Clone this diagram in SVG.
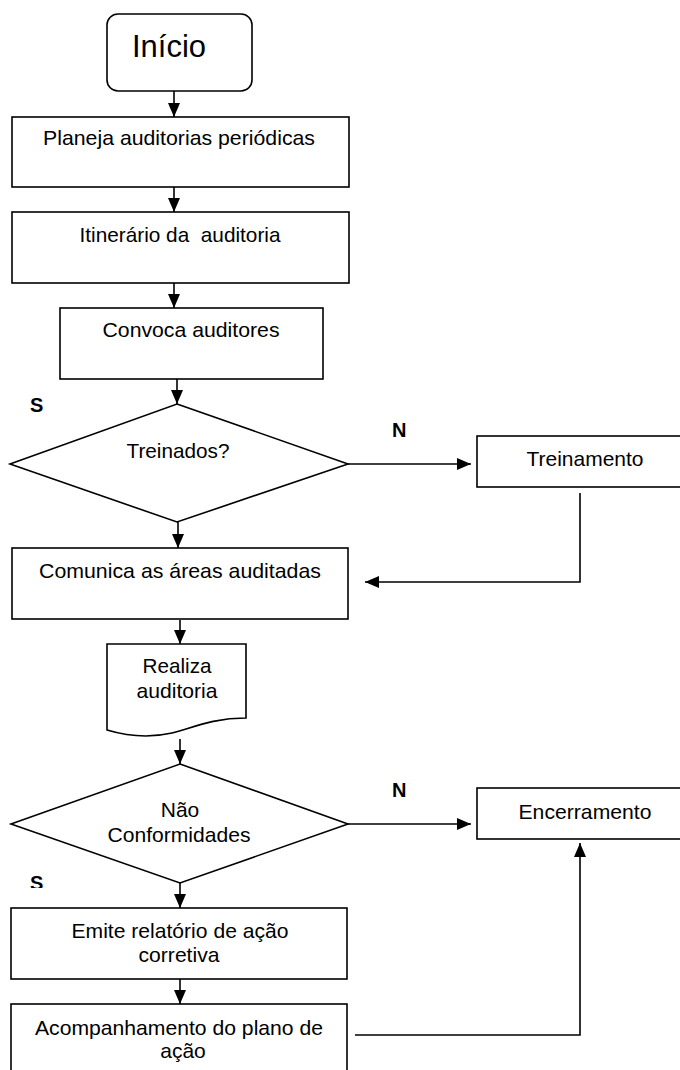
<svg xmlns="http://www.w3.org/2000/svg" width="680" height="1070" viewBox="0 0 680 1070">
<style>
.box{fill:#fff;stroke:#000;stroke-width:1.6}
.t{font-family:"Liberation Sans",Arial,sans-serif;font-size:21px;fill:#000;text-anchor:middle}
.lbl{font-family:"Liberation Sans",Arial,sans-serif;font-size:20px;font-weight:bold;fill:#000}
.ln{fill:none;stroke:#000;stroke-width:1.6}
</style>
<defs>
<marker id="ah" viewBox="0 0 14 12" refX="14" refY="6" markerWidth="14" markerHeight="12" markerUnits="userSpaceOnUse" orient="auto">
<path d="M0,0 L14,6 L0,12 z" fill="#000"/>
</marker>
<clipPath id="sclip"><rect x="0" y="860" width="100" height="28"/></clipPath>
</defs>
<rect width="680" height="1070" fill="#fff"/>

<g id="connectors">
<line class="ln" x1="174" y1="91" x2="174" y2="117" marker-end="url(#ah)"/>
<line class="ln" x1="174" y1="187" x2="174" y2="212" marker-end="url(#ah)"/>
<line class="ln" x1="174" y1="283" x2="174" y2="308" marker-end="url(#ah)"/>
<line class="ln" x1="177" y1="379" x2="177" y2="404" marker-end="url(#ah)"/>
<line class="ln" x1="348" y1="464" x2="471" y2="464" marker-end="url(#ah)"/>
<line class="ln" x1="178" y1="522" x2="178" y2="548" marker-end="url(#ah)"/>
<polyline class="ln" points="580,493 580,582 365,582" marker-end="url(#ah)"/>
<line class="ln" x1="180" y1="620" x2="180" y2="644" marker-end="url(#ah)"/>
<line class="ln" x1="180" y1="739" x2="180" y2="764" marker-end="url(#ah)"/>
<line class="ln" x1="348" y1="824" x2="471" y2="824" marker-end="url(#ah)"/>
<line class="ln" x1="180" y1="883" x2="180" y2="908" marker-end="url(#ah)"/>
<line class="ln" x1="180" y1="979" x2="180" y2="1004" marker-end="url(#ah)"/>
<polyline class="ln" points="355,1035 580,1035 580,843" marker-end="url(#ah)"/>
<text class="lbl" x="30" y="412">S</text>
<text class="lbl" x="392" y="437">N</text>
<text class="lbl" x="392" y="797">N</text>
<text class="lbl" x="30" y="890" clip-path="url(#sclip)">S</text>
</g>

<g id="inicio">
<rect class="box" x="107" y="14" width="145" height="77" rx="11"/>
<text x="169" y="57" font-family="Liberation Sans,Arial,sans-serif" font-size="32" text-anchor="middle" textLength="74" lengthAdjust="spacingAndGlyphs">Início</text>
</g>

<g id="planeja">
<rect class="box" x="12" y="117" width="337" height="70"/>
<text class="t" x="179" y="145" textLength="272" lengthAdjust="spacingAndGlyphs">Planeja auditorias periódicas</text>
</g>

<g id="itinerario">
<rect class="box" x="12" y="212" width="337" height="71"/>
<text class="t" x="180" y="242" xml:space="preserve" textLength="201" lengthAdjust="spacingAndGlyphs">Itinerário da  auditoria</text>
</g>

<g id="convoca">
<rect class="box" x="60" y="308" width="263" height="71"/>
<text class="t" x="191" y="337" textLength="177" lengthAdjust="spacingAndGlyphs">Convoca auditores</text>
</g>

<g id="treinados">
<polygon class="box" points="177,404 348,464 177,522 10,464"/>
<text class="t" x="178" y="458" textLength="103" lengthAdjust="spacingAndGlyphs">Treinados?</text>
</g>

<g id="treinamento">
<rect class="box" x="477" y="436" width="210" height="51"/>
<text class="t" x="585" y="466" textLength="117" lengthAdjust="spacingAndGlyphs">Treinamento</text>
</g>

<g id="comunica">
<rect class="box" x="12" y="548" width="336" height="71"/>
<text class="t" x="180" y="578" textLength="282" lengthAdjust="spacingAndGlyphs">Comunica as áreas auditadas</text>
</g>

<g id="realiza">
<path class="box" d="M107,644 L246,644 L246,718 C212,718 192,728 172,733 C150,738 127,736 107,730 Z"/>
<text class="t" x="177" y="673" textLength="69" lengthAdjust="spacingAndGlyphs">Realiza</text>
<text class="t" x="177" y="698" textLength="81" lengthAdjust="spacingAndGlyphs">auditoria</text>
</g>

<g id="naoconformidades">
<polygon class="box" points="180,764 348,824 180,883 11,824"/>
<text class="t" x="180" y="817">Não</text>
<text class="t" x="179" y="842" textLength="143" lengthAdjust="spacingAndGlyphs">Conformidades</text>
</g>

<g id="encerramento">
<rect class="box" x="477" y="788" width="210" height="51"/>
<text class="t" x="585" y="819" textLength="133" lengthAdjust="spacingAndGlyphs">Encerramento</text>
</g>

<g id="emite">
<rect class="box" x="11" y="908" width="336" height="71"/>
<text class="t" x="180" y="938" textLength="217" lengthAdjust="spacingAndGlyphs">Emite relatório de ação</text>
<text class="t" x="179" y="962" textLength="81" lengthAdjust="spacingAndGlyphs">corretiva</text>
</g>

<g id="acompanhamento">
<rect class="box" x="11" y="1004" width="336" height="80"/>
<text class="t" x="179" y="1035" textLength="288" lengthAdjust="spacingAndGlyphs">Acompanhamento do plano de</text>
<text class="t" x="183" y="1058">ação</text>
</g>
</svg>
